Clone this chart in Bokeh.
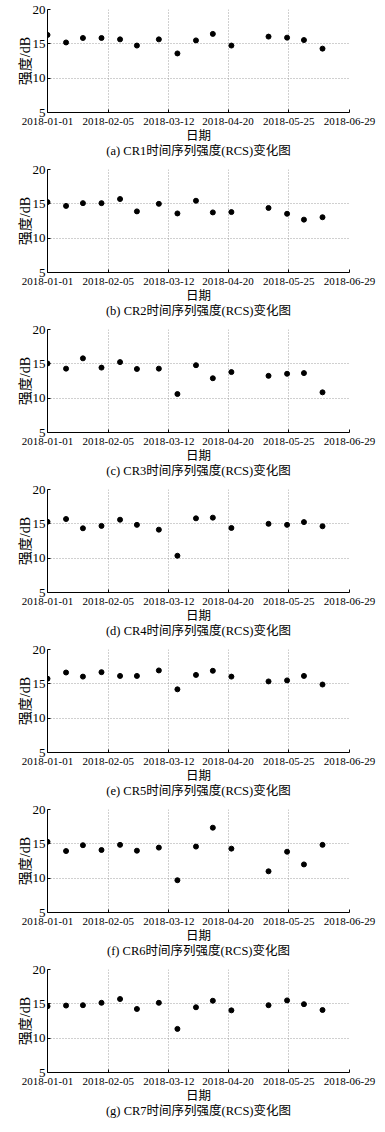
import numpy as np
import pandas as pd
from bokeh.plotting import figure
from bokeh.layouts import column
from bokeh.models import FixedTicker
from bokeh.embed import file_html
from bokeh.resources import INLINE

# ---------------- data ----------------
dates = ["2018-01-01", "2018-01-12", "2018-01-22", "2018-02-02", "2018-02-13",
         "2018-02-23", "2018-03-08", "2018-03-19", "2018-03-30", "2018-04-09",
         "2018-04-20", "2018-05-12", "2018-05-23", "2018-06-02", "2018-06-13"]

tick_labels = ["2018-01-01", "2018-02-05", "2018-03-12",
               "2018-04-20", "2018-05-25", "2018-06-29"]

cr1 = [16.3, 15.2, 15.85, 15.85, 15.65, 14.75, 15.65, 13.6, 15.5, 16.45, 14.75, 16.05, 15.9, 15.55, 14.3]
cr2 = [15.25, 14.7, 15.1, 15.1, 15.7, 13.9, 15.0, 13.6, 15.45, 13.75, 13.8, 14.4, 13.55, 12.7, 13.05]
cr3 = [15.05, 14.3, 15.8, 14.45, 15.25, 14.25, 14.3, 10.6, 14.8, 12.9, 13.8, 13.25, 13.55, 13.65, 10.85]
cr4 = [15.3, 15.7, 14.35, 14.7, 15.6, 14.85, 14.15, 10.35, 15.8, 15.9, 14.4, 15.0, 14.85, 15.25, 14.65]
cr5 = [15.75, 16.65, 16.05, 16.7, 16.15, 16.15, 16.95, 14.2, 16.3, 16.9, 16.05, 15.35, 15.5, 16.15, 14.9]
cr6 = [15.3, 13.95, 14.8, 14.1, 14.85, 14.0, 14.45, 9.7, 14.6, 17.35, 14.3, 11.0, 13.85, 12.0, 14.85]
cr7 = [14.65, 14.75, 14.8, 15.15, 15.7, 14.25, 15.15, 11.35, 14.5, 15.45, 14.05, 14.8, 15.5, 14.95, 14.1]

series = [cr1, cr2, cr3, cr4, cr5, cr6, cr7]
x_title = "日期"
y_title = "强度/dB"
captions = ["(a) CR1时间序列强度(RCS)变化图", "(b) CR2时间序列强度(RCS)变化图",
            "(c) CR3时间序列强度(RCS)变化图", "(d) CR4时间序列强度(RCS)变化图",
            "(e) CR5时间序列强度(RCS)变化图", "(f) CR6时间序列强度(RCS)变化图",
            "(g) CR7时间序列强度(RCS)变化图"]
y_ticks = [5, 10, 15, 20]

# ---------------- derived ----------------
t0 = pd.Timestamp(tick_labels[0])
days = [(pd.Timestamp(d) - t0).days for d in dates]
span = (pd.Timestamp(tick_labels[-1]) - t0).days
tick_pos = [int(round(v)) for v in np.linspace(0, span, len(tick_labels))]

FONT = "'Liberation Serif', 'Noto Sans CJK SC', serif"

figs = []
for vals, cap in zip(series, captions):
    p = figure(width=385, height=160, x_range=(0, span), y_range=(5, 20),
               output_backend="svg", toolbar_location=None,
               min_border_top=9, min_border_bottom=40,
               min_border_left=47, min_border_right=36,
               background_fill_color="white", border_fill_color="white")
    p.outline_line_color = None
    p.scatter(x=days, y=vals, size=5, color="black")

    p.xaxis.ticker = FixedTicker(ticks=tick_pos)
    p.xaxis.major_label_overrides = {t: l for t, l in zip(tick_pos, tick_labels)}
    p.yaxis.ticker = FixedTicker(ticks=y_ticks)

    for ax in (p.xaxis, p.yaxis):
        ax.major_tick_in = 3
        ax.major_tick_out = 0
        ax.minor_tick_line_color = None
        ax.axis_line_color = "black"
        ax.major_tick_line_color = "black"
        ax.major_label_text_font = FONT
        ax.major_label_text_color = "black"
        ax.axis_label_text_font = FONT
        ax.axis_label_text_font_style = "normal"
        ax.axis_label_text_color = "black"

    p.xaxis.major_label_text_font_size = "11px"
    p.xaxis.major_label_standoff = 5
    p.xaxis.axis_label = x_title + "\n" + cap
    p.xaxis.axis_label_text_font_size = "12.5px"
    p.xaxis.axis_label_text_line_height = 1.1
    p.xaxis.axis_label_standoff = 1

    p.yaxis.major_label_text_font_size = "13px"
    p.yaxis.major_label_standoff = 2
    p.yaxis.axis_label = y_title
    p.yaxis.axis_label_text_font_size = "14px"
    p.yaxis.axis_label_standoff = -3

    for g in (p.xgrid, p.ygrid):
        g.grid_line_color = "#a0a0a0"
        g.grid_line_dash = "1 2"
        g.grid_line_width = 1

    figs.append(p)

layout = column(*figs, spacing=0)
open("out.html", "w").write(file_html(layout, INLINE))
